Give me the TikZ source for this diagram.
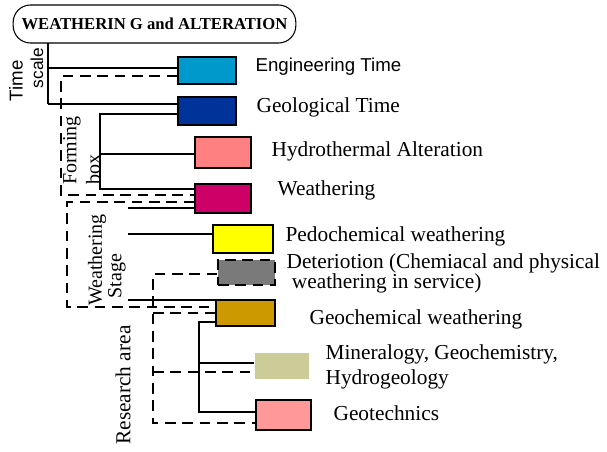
\documentclass[tikz,border=0pt]{standalone}
\usepackage{fontspec}
\setmainfont{Liberation Serif}
\newfontfamily\arialfont{Liberation Sans}
\definecolor{engblue}{HTML}{0099CC}
\definecolor{geoblue}{HTML}{003399}
\definecolor{hydrored}{HTML}{FF8080}
\definecolor{weathred}{HTML}{CC0066}
\definecolor{pedoyellow}{HTML}{FFFF00}
\definecolor{detergray}{HTML}{7A7A7A}
\definecolor{geochemgold}{HTML}{CC9900}
\definecolor{minerkhaki}{HTML}{CCCC99}
\definecolor{geotechpink}{HTML}{FF9999}
\tikzset{
  swatch/.style={draw, line width=1.1pt, inner sep=0pt},
  lab/.style={anchor=west, inner sep=0pt, font=\fontsize{16}{15}\selectfont},
  side/.style={rotate=90, inner sep=0pt, font=\fontsize{15}{15}\selectfont},
  dashline/.style={dash pattern=on 8pt off 5pt}
}

\begin{document}
\begin{tikzpicture}[x=0.75pt, y=-0.75pt, line width=0.9pt]
\useasboundingbox (0,0) rectangle (607,451);
% Title
    \node[draw, line width=0.8pt, rounded corners=13pt, minimum width=212pt, minimum height=28.5pt,
          inner sep=0pt, font=\bfseries\fontsize{12.5}{13}\selectfont] (title) at (154.5,24) {WEATHERIN G and ALTERATION};
% Colour boxes
    \node[swatch, fill=engblue, minimum width=43.5pt, minimum height=20.25pt] (eng) at (207,70.5) {};
    \node[swatch, fill=geoblue, minimum width=43.5pt, minimum height=21pt] (geo) at (207,111) {};
    \node[swatch, fill=hydrored, minimum width=42pt, minimum height=23.25pt] (hydro) at (223,152.5) {};
    \node[swatch, fill=weathred, minimum width=42pt, minimum height=21.75pt] (weath) at (223,198.5) {};
    \node[swatch, fill=pedoyellow, minimum width=45pt, minimum height=21pt] (pedo) at (243,239) {};
    \node[swatch, dashline, fill=detergray, minimum width=42.75pt, minimum height=18.75pt] (deter) at (246.5,272.5) {};
    \node[swatch, fill=geochemgold, minimum width=44.25pt, minimum height=19.5pt] (geochem) at (245.5,313) {};
    \node[fill=minerkhaki, inner sep=0pt, minimum width=40.5pt, minimum height=19.5pt] (miner) at (282,366) {};
    \node[swatch, fill=geotechpink, minimum width=41.25pt, minimum height=22.5pt] (geotech) at (283.5,415) {};
% Box labels
    \node[lab, font=\arialfont\fontsize{14}{14}\selectfont] (englab) at (255,67) {Engineering Time};
    \node[lab] (geolab) at (256,107) {Geological Time};
    \node[lab] (hydrolab) at (271,151) {Hydrothermal Alteration};
    \node[lab] (weathlab) at (277,190) {Weathering};
    \node[lab] (pedolab) at (285,236) {Pedochemical weathering};
    \node[lab, align=left] (deterlab) at (286,273) {Deteriotion (Chemiacal and physical\\\hspace{4pt}weathering in service)};
    \node[lab] (geochemlab) at (309,319) {Geochemical weathering};
    \node[lab, align=left, font=\fontsize{16}{18.75}\selectfont] (minerlab) at (325,367) {Mineralogy, Geochemistry,\\Hydrogeology};
    \node[lab] (geotechlab) at (333,413) {Geotechnics};
% Side labels
    \node[side, font=\arialfont\fontsize{14}{14}\selectfont] (timelab) at (16,81) {Time};
    \node[side, font=\arialfont\fontsize{13}{13}\selectfont] (scalelab) at (37,68) {scale};
    \node[side] (forminglab) at (72,150.5) {Forming};
    \node[side] (boxlab) at (93,169) {box};
    \node[side] (weatheringlab) at (97,260) {Weathering};
    \node[side] (stagelab) at (117,276) {Stage};
    \node[side, font=\fontsize{16}{16}\selectfont] (researchlab) at (123,385) {Research area};
% Time scale
    \coordinate (ts0) at (48,43);
    \coordinate (ts1) at (48,68);
    \coordinate (ts2) at (48,104);
    \draw (ts0) -- (ts2);
    \draw (ts1) -- (ts1 -| eng.west);
    \draw (ts2) -- (ts2 -| geo.west);
% Forming box
    \coordinate (fb1) at (61,76);
    \coordinate (fb2) at (61,195);
    \draw[dashline] (fb1 -| eng.west) -- (fb1) -- (fb2) -- (fb2 -| weath.west);
    \coordinate (fm1) at (100,114);
    \coordinate (fm2) at (100,154);
    \coordinate (fm3) at (100,189);
    \draw (fm1 -| geo.west) -- (fm1) -- (fm3) -- (fm3 -| weath.west);
    \draw (fm2) -- (fm2 -| hydro.west);
% Weathering stage
    \coordinate (ws1) at (67,202);
    \coordinate (ws2) at (67,307);
    \draw[dashline] (ws1 -| weath.west) -- (ws1) -- (ws2) -- (ws2 -| geochem.west);
    \coordinate (st1) at (128,208);
    \coordinate (st2) at (128,234);
    \coordinate (st3) at (128,300);
    \draw (st1) -- (st1 -| weath.west);
    \draw (st2) -- (st2 -| pedo.west);
    \draw (st3) -- (st3 -| geochem.west);
% Research area
    \coordinate (ra1) at (153,274);
    \coordinate (ra2) at (153,372);
    \coordinate (ra3) at (153,423);
    \coordinate (ra4) at (153,313);
    \draw[dashline] (ra1 -| deter.west) -- (ra1) -- (ra3) -- (ra3 -| geotech.west);
    \draw[dashline] (ra2) -- (ra2 -| miner.west);
    \draw[dashline] (ra4) -- (ra4 -| geochem.west);
    \coordinate (gc1) at (199,322);
    \coordinate (gc2) at (199,363);
    \coordinate (gc3) at (199,412);
    \draw (gc1 -| geochem.west) -- (gc1) -- (gc3) -- (gc3 -| geotech.west);
    \draw (gc2) -- (gc2 -| miner.west);
\end{tikzpicture}
\end{document}
